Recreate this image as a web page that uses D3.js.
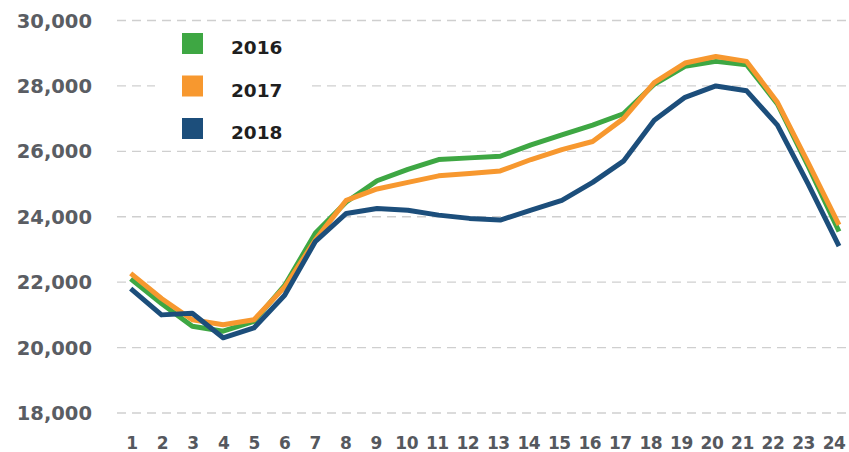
<!DOCTYPE html>
<html>
<head>
<meta charset="utf-8">
<script src="https://cdn.jsdelivr.net/npm/d3@7"></script>
<style>
  body { margin: 0; background: #fff; }
  svg { display: block; }
</style>
</head>
<body>
<div id="chart"></div>
<script>
const hours = d3.range(1, 25);
const yTicks = [18000, 20000, 22000, 24000, 26000, 28000, 30000];

const s2016 = [22100, 21350, 20650, 20500, 20800, 21900, 23500, 24450, 25100, 25450, 25750, 25800,
  25850, 26200, 26500, 26800, 27150, 28050, 28600, 28750, 28650, 27450, 25550, 23550];
const s2017 = [22270, 21500, 20850, 20700, 20850, 21850, 23300, 24500, 24850, 25050, 25250, 25320,
  25400, 25750, 26050, 26300, 27000, 28100, 28700, 28900, 28750, 27500, 25650, 23750];
const s2018 = [21800, 21000, 21050, 20300, 20600, 21600, 23250, 24100, 24250, 24200, 24050, 23950,
  23900, 24200, 24500, 25050, 25700, 26950, 27650, 28000, 27850, 26800, 25000, 23100];

const seriesNames = ["2016", "2017", "2018"];
const seriesColors = ["#3ea743", "#f7982f", "#1c4e7b"];

const width = 849, height = 452;

const svg = d3.select("#chart")
  .append("svg")
  .attr("width", width)
  .attr("height", height);

const x = d3.scaleLinear().domain([1, 24]).range([130.7, 839]);
// tick labels sit slightly left of the data points in the original
const xLabel = d3.scaleLinear().domain([1, 24]).range([132, 834]);
const y = d3.scaleLinear().domain([18000, 30000]).range([413, 20.5]);

// grid
svg.append("g")
  .selectAll("line")
  .data(yTicks)
  .join("line")
  .attr("x1", 117)
  .attr("x2", width)
  .attr("y1", d => y(d))
  .attr("y2", d => y(d))
  .attr("stroke", "#cfcfcf")
  .attr("stroke-width", 1.3)
  .attr("stroke-dasharray", "9,6");

// y labels
svg.append("g")
  .selectAll("text")
  .data(yTicks)
  .join("text")
  .attr("x", 92)
  .attr("y", d => y(d) + 7)
  .attr("text-anchor", "end")
  .attr("font-family", "DejaVu Sans")
  .attr("font-weight", "bold")
  .attr("font-size", "19.5px")
  .attr("fill", "#5a5d63")
  .text(d3.format(","));

// x labels
svg.append("g")
  .selectAll("text")
  .data(hours)
  .join("text")
  .attr("x", d => xLabel(d))
  .attr("y", 448.5)
  .attr("text-anchor", "middle")
  .attr("font-family", "DejaVu Sans")
  .attr("font-weight", "bold")
  .attr("font-size", "17px")
  .attr("letter-spacing", "-0.5px")
  .attr("fill", "#55585e")
  .text(d => d);

// legend (white box hides part of the 28,000 gridline)
const legend = svg.append("g");
legend.append("rect")
  .attr("x", 155)
  .attr("y", 28)
  .attr("width", 156)
  .attr("height", 114)
  .attr("fill", "#fff");

seriesNames.forEach((name, i) => {
  const row = legend.append("g")
    .attr("transform", `translate(182, ${33 + i * 42.5})`);
  row.append("rect")
    .attr("width", 21)
    .attr("height", 21)
    .attr("fill", seriesColors[i]);
  row.append("text")
    .attr("x", 49)
    .attr("y", 21)
    .attr("font-family", "DejaVu Sans")
    .attr("font-weight", "bold")
    .attr("font-size", "18.5px")
    .attr("fill", "#1f1f1f")
    .text(name);
});

// lines
const line = d3.line()
  .x((d, i) => x(hours[i]))
  .y(d => y(d));

[s2016, s2017, s2018].forEach((values, i) => {
  svg.append("path")
    .datum(values)
    .attr("d", line)
    .attr("fill", "none")
    .attr("stroke", seriesColors[i])
    .attr("stroke-width", 5)
    .attr("stroke-linejoin", "round");
});
</script>
</body>
</html>
